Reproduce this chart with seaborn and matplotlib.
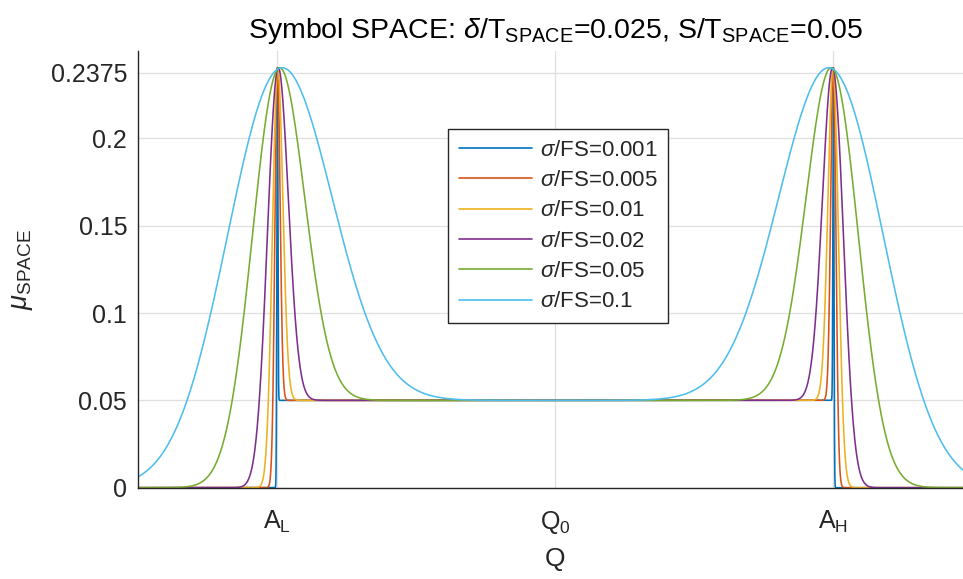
import math
import numpy as np
import pandas as pd
import matplotlib
matplotlib.use("Agg")
import matplotlib.pyplot as plt
import seaborn as sns

# ---- data ----
sigma_over_fs = [0.001, 0.005, 0.01, 0.02, 0.05, 0.1]
series_labels = [r"$\sigma$/FS=0.001", r"$\sigma$/FS=0.005", r"$\sigma$/FS=0.01",
                 r"$\sigma$/FS=0.02", r"$\sigma$/FS=0.05", r"$\sigma$/FS=0.1"]
series_colors = ["#0072BD", "#D95319", "#EDB120", "#7E2F8E", "#77AC30", "#4DBEEE"]
level_names = [r"$\mathregular{A_L}$", r"$\mathregular{Q_0}$", r"$\mathregular{A_H}$"]
level_values = [-1.0, 0.0, 1.0]          # A_L, Q_0, A_H
full_scale = 1.875                         # FS in Q units, estimated from the curve widths
peak_level = 0.2395                        # value at the signal levels (narrow noise)
floor_level = 0.05                         # flat part between A_L and A_H
y_ticks = [0, 0.05, 0.1, 0.15, 0.2, 0.2375]
y_tick_labels = ["0", "0.05", "0.1", "0.15", "0.2", "0.2375"]
q_range = [-1.5, 1.5]

A_L, Q_0, A_H = level_values

erf = np.frompyfunc(math.erf, 1, 1)
def Phi(z):
    return 0.5 * (1.0 + erf(z / math.sqrt(2.0)).astype(float))

q = np.linspace(q_range[0], q_range[1], 30001)
frames = []
for r, lab in zip(sigma_over_fs, series_labels):
    s = r * full_scale
    amp = peak_level - floor_level / 2
    g = amp * (np.exp(-(q - A_L) ** 2 / (2 * s * s)) + np.exp(-(q - A_H) ** 2 / (2 * s * s)))
    f = floor_level * (Phi((q - A_L) / s) - Phi((q - A_H) / s))
    frames.append(pd.DataFrame({"Q": q, "mu": g + f, "series": lab}))
df = pd.concat(frames, ignore_index=True)

# ---- style ----
sns.set_style("white")
plt.rcParams["font.family"] = ["Liberation Sans", "DejaVu Sans"]
plt.rcParams["mathtext.fontset"] = "custom"
plt.rcParams["mathtext.rm"] = "Liberation Sans"
plt.rcParams["mathtext.it"] = "Liberation Sans:italic"
plt.rcParams["mathtext.bf"] = "Liberation Sans:bold"

W, H = 963, 579
fig = plt.figure(figsize=(W / 100, H / 100), dpi=100)
x0, x1 = 138.3, 972.5
y_bot, y_top = 487.7, 51.0
ax = fig.add_axes([x0 / W, 1 - y_bot / H, (x1 - x0) / W, (y_bot - y_top) / H])

dark = "#262626"
sns.lineplot(data=df, x="Q", y="mu", hue="series", hue_order=series_labels,
             palette=series_colors, estimator=None, sort=False, linewidth=1.15,
             ax=ax, legend=True)

ax.set_xlim(q_range)
ax.set_ylim(0, 0.25)
ax.set_xticks(level_values)
ax.set_xticklabels(level_names)
ax.set_yticks(y_ticks)
ax.set_yticklabels(y_tick_labels)
ax.grid(True, color="#dfdfdf", linewidth=0.9)
ax.set_axisbelow(True)
for side in ["top", "right"]:
    ax.spines[side].set_visible(False)
for side in ["left", "bottom"]:
    ax.spines[side].set_color(dark)
    ax.spines[side].set_linewidth(1.0)
ax.tick_params(axis="both", direction="in", length=6.5, width=1.6, color=dark,
               labelcolor=dark, labelsize=18)
ax.tick_params(axis="y", pad=8)
ax.tick_params(axis="x", pad=15)

ax.set_xlabel("Q", fontsize=19, color=dark, labelpad=8)
ax.set_ylabel(r"$\mu_{\mathregular{SPACE}}$", fontsize=19.5, color=dark, labelpad=11)
ax.set_title(r"Symbol SPACE: $\delta$/T$_{\mathregular{SPACE}}$=0.025, S/T$_{\mathregular{SPACE}}$=0.05",
             fontsize=20.5, color="black", pad=9)

handles, labels = ax.get_legend_handles_labels()
leg = ax.legend(handles, labels, loc="upper left",
                bbox_to_anchor=(448 / W, 1 - 129 / H), bbox_transform=fig.transFigure,
                borderaxespad=0, fontsize=16, frameon=True, fancybox=False,
                edgecolor=dark, framealpha=1, handlelength=3.3, handletextpad=0.35,
                labelspacing=0.42, borderpad=0.48)
leg.get_frame().set_linewidth(1.0)
for line in leg.get_lines():
    line.set_linewidth(1.2)

fig.savefig("out.png", dpi=100)
